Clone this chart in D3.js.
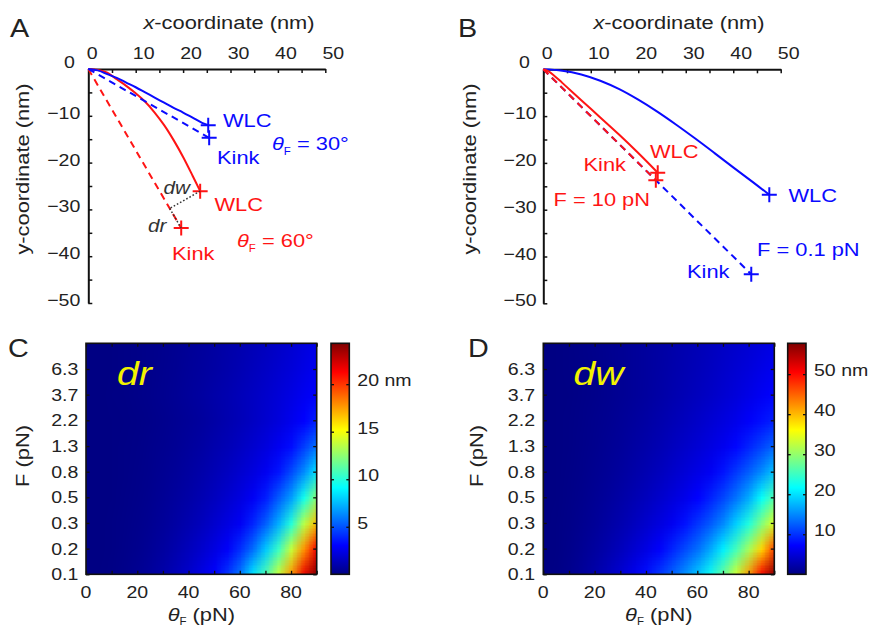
<!DOCTYPE html>
<html>
<head>
<meta charset="utf-8">
<script src="https://cdn.jsdelivr.net/npm/d3@7/dist/d3.min.js"></script>
<style>
  body { margin: 0; background: #fff; }
  svg { display: block; }
  text { font-family: "Liberation Sans", Arial, Helvetica, sans-serif; }
</style>
</head>
<body>
<svg id="fig" width="878" height="630"></svg>
<script>
// ---------- data ----------
const nmTicks = [0, 10, 20, 30, 40, 50];
const nmTicksY = [0, -10, -20, -30, -40, -50];

// Panel A: fixed force, pulling angle 30° (blue) and 60° (red)
const wlc30X = [0, 2, 4, 6, 8, 10, 12, 14, 16, 18, 20, 22, 24, 25.3];
const wlc30Y = [0, -0.3, -1.1, -1.9, -2.9, -3.9, -5.0, -6.1, -7.2, -8.3, -9.3, -10.4, -11.5, -12.0];
const kink30End = [25.5, -14.7];
const wlc60X = [0, 2, 4, 6, 8, 10, 12, 14, 16, 18, 20, 22, 23.6];
const wlc60Y = [0, -0.2, -0.8, -2.2, -3.6, -5.2, -7.0, -9.3, -12.0, -15.2, -18.8, -22.8, -26.1];
const kink60End = [19.6, -34.0];

// Panel B: fixed angle, force 0.1 pN (blue) and 10 pN (red)
const wlcLowX = [0, 4, 8, 12, 16, 20, 24, 28, 32, 36, 40, 44, 47.6];
const wlcLowY = [0, -0.3, -1.1, -2.45, -4.25, -6.5, -9.05, -11.85, -14.8, -17.85, -20.95, -24.0, -26.8];
const kinkLowEnd = [43.8, -43.8];
const wlcHighX = [0, 1, 2, 4, 8, 12, 16, 20, 24.1];
const wlcHighY = [0, -0.4, -1.1, -2.9, -6.6, -10.3, -14.0, -17.9, -22.1];
const kinkHighEnd = [23.7, -23.7];

// Panels C, D: maps over pulling angle (columns) and force (rows, low to high)
const thetaGrid = [0, 5, 10, 15, 20, 25, 30, 35, 40, 45, 50, 55, 60, 65, 70, 75, 80, 85, 90];
const forceLevels = [0.1, 0.168, 0.282, 0.473, 0.794, 1.33, 2.24, 3.76, 6.31, 10.6];
const forceTickLabels = ["0.1", "0.2", "0.3", "0.5", "0.8", "1.3", "2.2", "3.7", "6.3"];
const thetaTickLabels = [0, 20, 40, 60, 80];

const drGrid = [
  [0,0.015,0.07,0.19,0.36,0.61,0.93,1.32,1.8,2.35,3.0,4.29,5.9,8.6,11.0,14.0,17.8,21.8,24.3],
  [0,0.012,0.054,0.146,0.28,0.47,0.72,1.02,1.39,1.81,2.31,2.88,4.1,5.6,7.8,10.5,13.8,17.8,21.5],
  [0,0.01,0.043,0.116,0.22,0.37,0.57,0.81,1.1,1.43,1.83,2.28,2.78,3.9,5.3,7.2,10.0,13.5,16.8],
  [0,0.008,0.035,0.094,0.18,0.3,0.46,0.65,0.89,1.16,1.48,1.84,2.25,2.8,3.7,5.2,6.8,9.6,12.5],
  [0,0.007,0.029,0.077,0.15,0.25,0.38,0.54,0.73,0.95,1.22,1.51,1.85,2.22,2.7,3.5,4.8,6.4,8.6],
  [0,0.006,0.024,0.064,0.125,0.21,0.32,0.45,0.61,0.79,1.02,1.26,1.55,1.86,2.21,2.7,3.3,4.5,5.8],
  [0,0.005,0.02,0.054,0.106,0.18,0.27,0.38,0.52,0.67,0.86,1.07,1.31,1.57,1.87,2.19,2.6,3.05,3.8],
  [0,0.009,0.037,0.082,0.146,0.229,0.33,0.45,0.59,0.74,0.92,1.11,1.32,1.55,1.79,2.06,2.34,2.7,3.0],
  [0,0.008,0.033,0.074,0.131,0.205,0.295,0.40,0.53,0.66,0.82,0.99,1.18,1.39,1.61,1.85,2.10,2.4,2.7],
  [0,0.008,0.03,0.068,0.121,0.189,0.273,0.37,0.48,0.61,0.76,0.92,1.09,1.28,1.48,1.70,1.94,2.2,2.5]
];
const dwGrid = [
  [0,0.18,0.63,1.31,2.2,3.29,4.57,6.03,8.0,10.35,12.7,15.4,18.5,22.5,27.5,33.5,42.0,51.0,57.7],
  [0,0.13,0.46,0.96,1.6,2.4,3.33,4.4,5.59,6.97,9.14,11.3,13.5,16.8,20.8,25.5,31.0,38.5,47.0],
  [0,0.10,0.35,0.73,1.23,1.84,2.55,3.37,4.28,5.3,6.4,8.13,10.14,12.3,15.0,19.0,23.5,29.0,34.5],
  [0,0.08,0.28,0.58,0.97,1.45,2.02,2.66,3.39,4.19,5.06,6.01,7.21,9.09,11.2,13.8,17.0,22.0,26.5],
  [0,0.07,0.23,0.47,0.79,1.18,1.64,2.17,2.75,3.4,4.11,4.88,5.71,6.6,8.3,10.4,12.6,15.2,18.5],
  [0,0.06,0.19,0.39,0.66,0.98,1.36,1.8,2.28,2.82,3.41,4.05,4.74,5.48,6.3,7.5,9.2,11.0,13.0],
  [0,0.05,0.16,0.33,0.56,0.83,1.15,1.52,1.93,2.39,2.89,3.43,4.01,4.64,5.3,6.0,6.9,8.0,9.0],
  [0,0.04,0.14,0.28,0.48,0.71,0.99,1.3,1.65,2.05,2.48,2.94,3.44,3.98,4.54,5.14,5.8,6.6,7.3],
  [0,0.05,0.15,0.30,0.49,0.72,0.98,1.27,1.59,1.94,2.33,2.74,3.17,3.63,4.12,4.64,5.17,5.8,6.4],
  [0,0.06,0.17,0.32,0.51,0.73,0.98,1.26,1.56,1.88,2.23,2.59,2.98,3.39,3.81,4.26,4.72,5.2,5.7]
];
const drMax = 24.3, dwMax = 57.7;
const drBarTicks = [5, 10, 15, 20];
const dwBarTicks = [10, 20, 30, 40, 50];

// ---------- helpers ----------
const svg = d3.select("#fig");
const SX = 1.15;          // wide lettering
const INK = "#222";
const BLUE = "#0a0aff", RED = "#ff1414";

function addText(g, x, y, o) {
  const t = g.append("text")
    .attr("transform", `translate(${x},${y})${o.rotate ? ` rotate(${o.rotate})` : ""} scale(${o.sx || SX},1)`)
    .attr("text-anchor", o.anchor || "start")
    .attr("font-size", o.size)
    .attr("fill", o.fill || INK);
  if (o.italic) t.attr("font-style", "italic");
  const parts = Array.isArray(o.text) ? o.text : [[o.text]];
  parts.forEach(([s, st]) => {
    const ts = t.append("tspan").text(s);
    if (st) Object.entries(st).forEach(([k, v]) => ts.attr(k, v));
  });
  return t;
}

const jetStops = [0, 1/8, 3/8, 5/8, 7/8, 1];
const jetColors = ["#000083", "#0000ff", "#00ffff", "#ffff00", "#ff0000", "#800000"];
function jet(max) {
  return d3.scaleLinear().domain(jetStops.map(t => t * max)).range(jetColors)
    .interpolate(d3.interpolateRgb).clamp(true);
}

// ---------- panels A and B ----------
function linePanel(cfg) {
  const g = svg.append("g");
  const x = d3.scaleLinear().domain([0, 50]).range(cfg.xr);
  const y = d3.scaleLinear().domain([0, -50]).range(cfg.yr);

  const ax = g.append("g").attr("transform", `translate(0,${y(0)})`)
    .call(d3.axisTop(x).tickValues(d3.range(0, 51, 5)).tickSize(-4).tickSizeOuter(0).tickFormat(() => ""));
  const ay = g.append("g").attr("transform", `translate(${x(0)},0)`)
    .call(d3.axisLeft(y).tickValues(d3.range(0, -51, -5)).tickSize(-4).tickSizeOuter(0).tickFormat(() => ""));
  [ax, ay].forEach(a => {
    a.select(".domain").attr("stroke", "#111").attr("stroke-width", 2);
    a.selectAll(".tick line").attr("stroke", "#111").attr("stroke-width", 1.5);
  });

  nmTicks.forEach(v => addText(g, x(v) + (v === 0 ? 4 : 8), cfg.xLabBase, { text: String(v), size: 17, anchor: "middle" }));
  nmTicksY.forEach(v => {
    const zero = v === 0;
    addText(g, x(0) - (zero ? 13.5 : cfg.yLabGap), y(v) + (zero ? -1 : 3),
      { text: zero ? "0" : "\u2212" + Math.abs(v), size: 17, anchor: "end" });
  });

  addText(g, cfg.titleX, 29, { text: [["x", { "font-style": "italic" }], ["-coordinate (nm)"]], size: 19, anchor: "middle" });
  addText(g, cfg.yTitleX, 169, { text: "y-coordinate (nm)", size: 19, anchor: "middle", rotate: -90 });
  addText(g, cfg.letterX, 37, { text: cfg.letter, size: 25 });

  const line = d3.line().x(d => x(d[0])).y(d => y(d[1])).curve(d3.curveCatmullRom);
  const cross = (p, color) => g.append("path")
    .attr("d", `M${x(p[0]) - 7.5},${y(p[1])}H${x(p[0]) + 7.5}M${x(p[0])},${y(p[1]) - 7.5}V${y(p[1]) + 7.5}`)
    .attr("stroke", color).attr("stroke-width", 2).attr("fill", "none");

  cfg.series.forEach(s => {
    const pts = s.kind === "kink" ? [[0, 0], s.end] : s.xs.map((v, i) => [v, s.ys[i]]);
    g.append("path").attr("d", line(pts)).attr("fill", "none")
      .attr("stroke", s.color).attr("stroke-width", 2)
      .attr("stroke-dasharray", s.kind === "kink" ? "7,5" : null);
    cross(pts[pts.length - 1], s.color);
  });
  return { g, x, y };
}

// Panel A
const A = linePanel({
  letter: "A", letterX: 10, xr: [88.3, 325.3], yr: [69, 303], xLabBase: 59, yLabGap: 8,
  titleX: 229, yTitleX: 29,
  series: [
    { kind: "kink", end: kink60End, color: RED },
    { kind: "wlc", xs: wlc60X, ys: wlc60Y, color: RED },
    { kind: "kink", end: kink30End, color: BLUE },
    { kind: "wlc", xs: wlc30X, ys: wlc30Y, color: BLUE }
  ]
});
{
  // dw: perpendicular from the WLC end onto the kink direction; dr: along the kink direction
  const wEnd = [wlc60X[wlc60X.length - 1], wlc60Y[wlc60Y.length - 1]];
  const len = Math.hypot(kink60End[0], kink60End[1]);
  const u = [kink60End[0] / len, kink60End[1] / len];
  const proj = wEnd[0] * u[0] + wEnd[1] * u[1];
  const foot = [u[0] * proj, u[1] * proj];
  const seg = (p, q) => A.g.append("line")
    .attr("x1", A.x(p[0])).attr("y1", A.y(p[1])).attr("x2", A.x(q[0])).attr("y2", A.y(q[1]))
    .attr("stroke", "#333").attr("stroke-width", 1.5).attr("stroke-dasharray", "1.6,2");
  seg(wEnd, foot);
  seg(foot, kink60End);
  addText(A.g, 163.5, 194, { text: "dw", size: 18, italic: true, fill: "#333" });
  addText(A.g, 148, 232, { text: "dr", size: 18, italic: true, fill: "#333" });
  addText(A.g, 223, 127, { text: "WLC", size: 19, fill: BLUE });
  addText(A.g, 217, 164, { text: "Kink", size: 19, fill: BLUE });
  addText(A.g, 272, 150, { text: [["\u03b8", { "font-style": "italic" }], ["F", { "font-size": 10, dy: 5 }], [" = 30\u00b0", { dy: -5 }]], size: 19, fill: BLUE });
  addText(A.g, 214.5, 211, { text: "WLC", size: 19, fill: RED });
  addText(A.g, 237, 247, { text: [["\u03b8", { "font-style": "italic" }], ["F", { "font-size": 10, dy: 5 }], [" = 60\u00b0", { dy: -5 }]], size: 19, fill: RED });
  addText(A.g, 172, 260, { text: "Kink", size: 19, fill: RED });
}

// Panel B
const B = linePanel({
  letter: "B", letterX: 458, xr: [543.3, 780.7], yr: [69.3, 303.3], xLabBase: 59, yLabGap: 6.6,
  titleX: 679, yTitleX: 476,
  series: [
    { kind: "kink", end: kinkLowEnd, color: BLUE },
    { kind: "wlc", xs: wlcLowX, ys: wlcLowY, color: BLUE },
    { kind: "kink", end: kinkHighEnd, color: RED },
    { kind: "wlc", xs: wlcHighX, ys: wlcHighY, color: RED }
  ]
});
addText(B.g, 650, 157.5, { text: "WLC", size: 19, fill: RED });
addText(B.g, 583.5, 171, { text: "Kink", size: 19, fill: RED });
addText(B.g, 553.5, 206, { text: "F = 10 pN", size: 19, fill: RED });
addText(B.g, 788.5, 202, { text: "WLC", size: 19, fill: BLUE });
addText(B.g, 757, 256, { text: "F = 0.1 pN", size: 19, fill: BLUE });
addText(B.g, 687, 278, { text: "Kink", size: 19, fill: BLUE });

// ---------- panels C and D ----------
const defs = svg.append("defs");
function mapPanel(cfg) {
  const g = svg.append("g");
  const [x0, x1] = cfg.xr, top = 343.3, bottom = 574.3;
  const x = d3.scaleLinear().domain([0, 90]).range([x0, x1]);
  const y = d3.scaleLog().domain([forceLevels[0], forceLevels[forceLevels.length - 1]]).range([bottom, top]);
  const color = jet(cfg.max);

  // one pixel per grid value, smoothed by the browser when scaled up
  const rows = cfg.grid.length, cols = cfg.grid[0].length;
  const cv = document.createElement("canvas");
  cv.width = cols; cv.height = rows;
  const ctx = cv.getContext("2d");
  cfg.grid.forEach((row, r) => row.forEach((v, c) => {
    ctx.fillStyle = color(v);
    ctx.fillRect(c, rows - 1 - r, 1, 1);
  }));
  const dx = (x(thetaGrid[1]) - x(thetaGrid[0])) / 2;
  const dy = (y(forceLevels[0]) - y(forceLevels[1])) / 2;
  const clipId = "clip" + cfg.letter;
  defs.append("clipPath").attr("id", clipId).append("rect")
    .attr("x", x0).attr("y", top).attr("width", x1 - x0).attr("height", bottom - top);
  g.append("image").attr("href", cv.toDataURL())
    .attr("x", x(thetaGrid[0]) - dx).attr("width", x(thetaGrid[cols - 1]) - x(thetaGrid[0]) + 2 * dx)
    .attr("y", y(forceLevels[rows - 1]) - dy).attr("height", y(forceLevels[0]) - y(forceLevels[rows - 1]) + 2 * dy)
    .attr("preserveAspectRatio", "none").attr("clip-path", `url(#${clipId})`)
    .style("image-rendering", "auto");

  const tv = d3.range(0, 91, 10), fv = forceLevels.slice(0, 9);
  const axes = [
    g.append("g").attr("transform", `translate(0,${bottom})`).call(d3.axisBottom(x).tickValues(tv).tickSize(-3.5).tickFormat(() => "")),
    g.append("g").attr("transform", `translate(0,${top})`).call(d3.axisTop(x).tickValues(tv).tickSize(-3.5).tickFormat(() => "")),
    g.append("g").attr("transform", `translate(${x0},0)`).call(d3.axisLeft(y).tickValues(fv).tickSize(-3.5).tickFormat(() => "")),
    g.append("g").attr("transform", `translate(${x1},0)`).call(d3.axisRight(y).tickValues(fv).tickSize(-3.5).tickFormat(() => ""))
  ];
  axes.forEach(a => {
    a.select(".domain").remove();
    a.selectAll(".tick line").attr("stroke", "#111").attr("stroke-width", 1.3);
  });
  g.append("rect").attr("x", x0).attr("y", top).attr("width", x1 - x0).attr("height", bottom - top)
    .attr("fill", "none").attr("stroke", "#111").attr("stroke-width", 1.6);

  thetaTickLabels.forEach(v => addText(g, x(v), 598, { text: String(v), size: 17, anchor: "middle" }));
  forceTickLabels.forEach((s, i) => addText(g, x0 - cfg.yLabGap, y(forceLevels[i]) + 6, { text: s, size: 17, anchor: "end" }));
  addText(g, (x0 + x1) / 2, 621, { text: [["\u03b8", { "font-style": "italic" }], ["F", { "font-size": 10, dy: 4 }], [" (pN)", { dy: -4 }]], size: 19, anchor: "middle" });
  addText(g, cfg.yTitleX, 456, { text: "F (pN)", size: 19, anchor: "middle", rotate: -90 });
  addText(g, cfg.letterX, 357, { text: cfg.letter, size: 25 });
  addText(g, cfg.nameX, 385, { text: cfg.name, size: 34, italic: true, fill: "#f2f200" });

  // colour bar
  const [b0, b1] = cfg.barX;
  const bs = d3.scaleLinear().domain([0, cfg.max]).range([bottom, top]);
  const gradId = "grad" + cfg.letter;
  const grad = defs.append("linearGradient").attr("id", gradId).attr("x1", 0).attr("y1", 1).attr("x2", 0).attr("y2", 0);
  jetStops.forEach((t, i) => grad.append("stop").attr("offset", t).attr("stop-color", jetColors[i]));
  g.append("rect").attr("x", b0).attr("y", top).attr("width", b1 - b0).attr("height", bottom - top)
    .attr("fill", `url(#${gradId})`).attr("stroke", "#111").attr("stroke-width", 1.6);
  g.append("g").attr("transform", `translate(${b0},0)`).call(d3.axisLeft(bs).tickValues(cfg.barTicks).tickSize(-3).tickFormat(() => ""))
    .call(a => { a.select(".domain").remove(); a.selectAll(".tick line").attr("stroke", "#111").attr("stroke-width", 1.3); });
  g.append("g").attr("transform", `translate(${b1},0)`).call(d3.axisRight(bs).tickValues(cfg.barTicks).tickSize(-3).tickFormat(() => ""))
    .call(a => { a.select(".domain").remove(); a.selectAll(".tick line").attr("stroke", "#111").attr("stroke-width", 1.3); });
  cfg.barTicks.forEach((v, i) => addText(g, b1 + 8, bs(v) + 2,
    { text: i === cfg.barTicks.length - 1 ? `${v} nm` : String(v), size: 17 }));
}

mapPanel({ letter: "C", letterX: 8, xr: [86, 316.7], grid: drGrid, max: drMax, barX: [331, 349.3],
  barTicks: drBarTicks, yLabGap: 7.7, yTitleX: 29, nameX: 117, name: "dr" });
mapPanel({ letter: "D", letterX: 468, xr: [543.3, 774.3], grid: dwGrid, max: dwMax, barX: [787.7, 806],
  barTicks: dwBarTicks, yLabGap: 8.3, yTitleX: 483, nameX: 573.5, name: "dw" });
</script>
</body>
</html>
